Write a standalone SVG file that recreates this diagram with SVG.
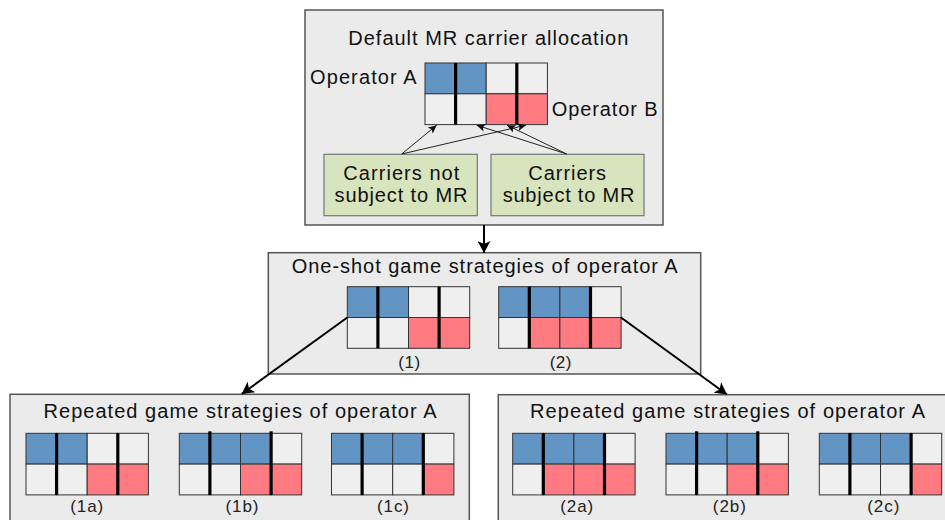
<svg xmlns="http://www.w3.org/2000/svg" xmlns:xlink="http://www.w3.org/1999/xlink" width="945" height="520" viewBox="0 0 945 520">
<style>
.box{fill:#ebebeb;stroke:#555;stroke-width:1.5}
.grn{fill:#d7e4bd;stroke:#777;stroke-width:1.2}
.c{stroke:#333;stroke-width:1}
.b{fill:#6395c4}
.r{fill:#ff7b81}
.g{fill:#efefef}
.thick{stroke:#000;stroke-width:3.2}
.t{font-family:"Liberation Sans",Arial,sans-serif;font-size:20px;fill:#111}
.l{font-family:"Liberation Sans",Arial,sans-serif;font-size:17px;fill:#222;text-anchor:middle}
.m{text-anchor:middle}
.big{stroke:#000;stroke-width:2;fill:none}
.sm{stroke:#222;stroke-width:1;fill:none}
</style>
<defs>
<marker id="ah" markerUnits="userSpaceOnUse" markerWidth="13" markerHeight="13" refX="12" refY="6.5" orient="auto">
<path d="M0,0 L12,6.5 L0,13 L3,6.5 z" fill="#000"/>
</marker>
<marker id="as" markerUnits="userSpaceOnUse" markerWidth="9" markerHeight="8" refX="8.5" refY="4" orient="auto">
<path d="M0,0 L8.5,4 L0,8 L2,4 z" fill="#111"/>
</marker>
<g id="th">
<line class="thick" x1="30.6" y1="0" x2="30.6" y2="61.6"/>
<line class="thick" x1="91.8" y1="0" x2="91.8" y2="61.6"/>
</g>
<g id="th2">
<line class="thick" x1="30.6" y1="-2" x2="30.6" y2="61.6"/>
<line class="thick" x1="91.8" y1="-2" x2="91.8" y2="61.6"/>
</g>
</defs>

<g id="default-box">
<rect class="box" x="305" y="10" width="358" height="215"/>
<text class="t m" x="488.3" y="45" textLength="280" lengthAdjust="spacing">Default MR carrier allocation</text>
<text class="t" x="310" y="84" textLength="106.7" lengthAdjust="spacing">Operator A</text>
<text class="t" x="551.7" y="115.5" textLength="106" lengthAdjust="spacing">Operator B</text>
<g id="grid-default" transform="translate(425,63)">
<rect class="c b" x="0" y="0" width="30.6" height="30.8"/><rect class="c b" x="30.6" y="0" width="30.6" height="30.8"/><rect class="c g" x="61.2" y="0" width="30.6" height="30.8"/><rect class="c g" x="91.8" y="0" width="30.6" height="30.8"/>
<rect class="c g" x="0" y="30.8" width="30.6" height="30.8"/><rect class="c g" x="30.6" y="30.8" width="30.6" height="30.8"/><rect class="c r" x="61.2" y="30.8" width="30.6" height="30.8"/><rect class="c r" x="91.8" y="30.8" width="30.6" height="30.8"/>
<use xlink:href="#th"/>
</g>
</g>

<g id="not-mr">
<rect class="grn" x="324" y="154.3" width="153.3" height="61.4"/>
<text class="t m" x="401.3" y="180" textLength="116" lengthAdjust="spacing">Carriers not</text>
<text class="t m" x="401" y="201.7" textLength="133" lengthAdjust="spacing">subject to MR</text>
</g>
<g id="mr">
<rect class="grn" x="491" y="154.3" width="153" height="61.4"/>
<text class="t m" x="567.2" y="180" textLength="77.7" lengthAdjust="spacing">Carriers</text>
<text class="t m" x="568.5" y="201.7" textLength="131.7" lengthAdjust="spacing">subject to MR</text>
</g>

<g id="oneshot-box">
<rect class="box" x="268.3" y="252.7" width="432.4" height="121.3"/>
<text class="t m" x="484.7" y="273.3" textLength="386" lengthAdjust="spacing">One-shot game strategies of operator A</text>
<g id="grid-1" transform="translate(347.3,286.7)">
<rect class="c b" x="0" y="0" width="30.6" height="30.8"/><rect class="c b" x="30.6" y="0" width="30.6" height="30.8"/><rect class="c g" x="61.2" y="0" width="30.6" height="30.8"/><rect class="c g" x="91.8" y="0" width="30.6" height="30.8"/>
<rect class="c g" x="0" y="30.8" width="30.6" height="30.8"/><rect class="c g" x="30.6" y="30.8" width="30.6" height="30.8"/><rect class="c r" x="61.2" y="30.8" width="30.6" height="30.8"/><rect class="c r" x="91.8" y="30.8" width="30.6" height="30.8"/>
<use xlink:href="#th"/>
</g>
<text class="l" x="409.2" y="367.5" textLength="21.7" lengthAdjust="spacing">(1)</text>
<g id="grid-2" transform="translate(498.7,286.7)">
<rect class="c b" x="0" y="0" width="30.6" height="30.8"/><rect class="c b" x="30.6" y="0" width="30.6" height="30.8"/><rect class="c b" x="61.2" y="0" width="30.6" height="30.8"/><rect class="c g" x="91.8" y="0" width="30.6" height="30.8"/>
<rect class="c g" x="0" y="30.8" width="30.6" height="30.8"/><rect class="c r" x="30.6" y="30.8" width="30.6" height="30.8"/><rect class="c r" x="61.2" y="30.8" width="30.6" height="30.8"/><rect class="c r" x="91.8" y="30.8" width="30.6" height="30.8"/>
<use xlink:href="#th"/>
</g>
<text class="l" x="560.5" y="367.5" textLength="21.7" lengthAdjust="spacing">(2)</text>
</g>

<g id="repeated-1-box">
<rect class="box" x="10" y="394.3" width="459.3" height="140"/>
<text class="t m" x="240" y="418.3" textLength="393" lengthAdjust="spacing">Repeated game strategies of operator A</text>
<g id="grid-1a" transform="translate(26,433.3)">
<rect class="c b" x="0" y="0" width="30.6" height="30.8"/><rect class="c b" x="30.6" y="0" width="30.6" height="30.8"/><rect class="c g" x="61.2" y="0" width="30.6" height="30.8"/><rect class="c g" x="91.8" y="0" width="30.6" height="30.8"/>
<rect class="c g" x="0" y="30.8" width="30.6" height="30.8"/><rect class="c g" x="30.6" y="30.8" width="30.6" height="30.8"/><rect class="c r" x="61.2" y="30.8" width="30.6" height="30.8"/><rect class="c r" x="91.8" y="30.8" width="30.6" height="30.8"/>
<use xlink:href="#th"/>
</g>
<text class="l" x="86.7" y="512" textLength="33" lengthAdjust="spacing">(1a)</text>
<g id="grid-1b" transform="translate(179.3,433.3)">
<rect class="c b" x="0" y="0" width="30.6" height="30.8"/><rect class="c b" x="30.6" y="0" width="30.6" height="30.8"/><rect class="c b" x="61.2" y="0" width="30.6" height="30.8"/><rect class="c g" x="91.8" y="0" width="30.6" height="30.8"/>
<rect class="c g" x="0" y="30.8" width="30.6" height="30.8"/><rect class="c g" x="30.6" y="30.8" width="30.6" height="30.8"/><rect class="c r" x="61.2" y="30.8" width="30.6" height="30.8"/><rect class="c r" x="91.8" y="30.8" width="30.6" height="30.8"/>
<use xlink:href="#th2"/>
</g>
<text class="l" x="242" y="512" textLength="33" lengthAdjust="spacing">(1b)</text>
<g id="grid-1c" transform="translate(331.5,433.3)">
<rect class="c b" x="0" y="0" width="30.6" height="30.8"/><rect class="c b" x="30.6" y="0" width="30.6" height="30.8"/><rect class="c b" x="61.2" y="0" width="30.6" height="30.8"/><rect class="c g" x="91.8" y="0" width="30.6" height="30.8"/>
<rect class="c g" x="0" y="30.8" width="30.6" height="30.8"/><rect class="c g" x="30.6" y="30.8" width="30.6" height="30.8"/><rect class="c g" x="61.2" y="30.8" width="30.6" height="30.8"/><rect class="c r" x="91.8" y="30.8" width="30.6" height="30.8"/>
<use xlink:href="#th"/>
</g>
<text class="l" x="393" y="512" textLength="32" lengthAdjust="spacing">(1c)</text>
</g>

<g id="repeated-2-box">
<rect class="box" x="498.3" y="394.7" width="460" height="140"/>
<text class="t m" x="727.5" y="418.3" textLength="395" lengthAdjust="spacing">Repeated game strategies of operator A</text>
<g id="grid-2a" transform="translate(512.7,433.3)">
<rect class="c b" x="0" y="0" width="30.6" height="30.8"/><rect class="c b" x="30.6" y="0" width="30.6" height="30.8"/><rect class="c b" x="61.2" y="0" width="30.6" height="30.8"/><rect class="c g" x="91.8" y="0" width="30.6" height="30.8"/>
<rect class="c g" x="0" y="30.8" width="30.6" height="30.8"/><rect class="c r" x="30.6" y="30.8" width="30.6" height="30.8"/><rect class="c r" x="61.2" y="30.8" width="30.6" height="30.8"/><rect class="c r" x="91.8" y="30.8" width="30.6" height="30.8"/>
<use xlink:href="#th"/>
</g>
<text class="l" x="576.7" y="512" textLength="33" lengthAdjust="spacing">(2a)</text>
<g id="grid-2b" transform="translate(666,433.3)">
<rect class="c b" x="0" y="0" width="30.6" height="30.8"/><rect class="c b" x="30.6" y="0" width="30.6" height="30.8"/><rect class="c b" x="61.2" y="0" width="30.6" height="30.8"/><rect class="c g" x="91.8" y="0" width="30.6" height="30.8"/>
<rect class="c g" x="0" y="30.8" width="30.6" height="30.8"/><rect class="c g" x="30.6" y="30.8" width="30.6" height="30.8"/><rect class="c r" x="61.2" y="30.8" width="30.6" height="30.8"/><rect class="c r" x="91.8" y="30.8" width="30.6" height="30.8"/>
<use xlink:href="#th2"/>
</g>
<text class="l" x="729.3" y="512" textLength="33" lengthAdjust="spacing">(2b)</text>
<g id="grid-2c" transform="translate(819.3,433.3)">
<rect class="c b" x="0" y="0" width="30.6" height="30.8"/><rect class="c b" x="30.6" y="0" width="30.6" height="30.8"/><rect class="c b" x="61.2" y="0" width="30.6" height="30.8"/><rect class="c g" x="91.8" y="0" width="30.6" height="30.8"/>
<rect class="c g" x="0" y="30.8" width="30.6" height="30.8"/><rect class="c g" x="30.6" y="30.8" width="30.6" height="30.8"/><rect class="c g" x="61.2" y="30.8" width="30.6" height="30.8"/><rect class="c r" x="91.8" y="30.8" width="30.6" height="30.8"/>
<use xlink:href="#th"/>
</g>
<text class="l" x="883.3" y="512" textLength="32" lengthAdjust="spacing">(2c)</text>
</g>

<g id="connectors">
<line class="sm" x1="401.7" y1="154" x2="436.7" y2="125.2" marker-end="url(#as)"/>
<line class="sm" x1="401.7" y1="154" x2="526" y2="125.2" marker-end="url(#as)"/>
<line class="sm" x1="566.7" y1="154" x2="476.7" y2="125.2" marker-end="url(#as)"/>
<line class="sm" x1="566.7" y1="154" x2="507" y2="125.2" marker-end="url(#as)"/>
<line class="big" x1="484" y1="225" x2="484" y2="253" marker-end="url(#ah)"/>
<line class="big" x1="347.3" y1="317.5" x2="241.7" y2="394" marker-end="url(#ah)"/>
<line class="big" x1="621" y1="317.5" x2="727" y2="394.5" marker-end="url(#ah)"/>
</g>
</svg>
